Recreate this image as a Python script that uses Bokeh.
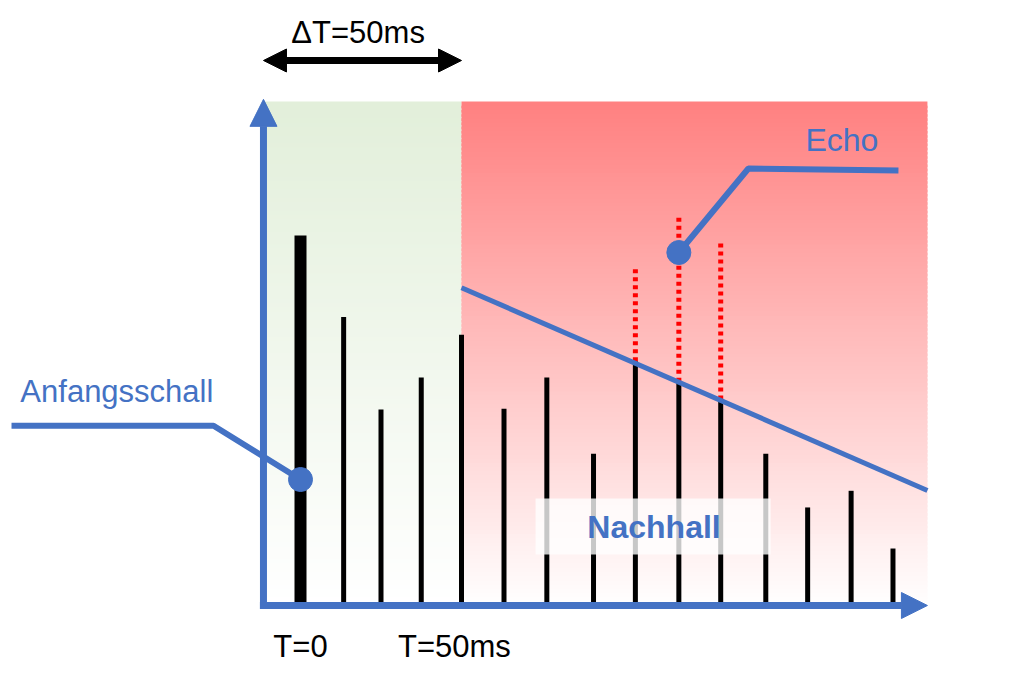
from bokeh.plotting import figure
from bokeh.models import Range1d, Arrow, NormalHead, ColumnDataSource
from bokeh.core.properties import value
from bokeh.embed import file_html
from bokeh.resources import INLINE

# ---------------- data ----------------
# impulse arrival times (ms) and relative levels (first impulse = 100)
times_ms = [0, 13.4, 25, 37.5, 50, 63.2, 76.5, 91, 104, 117.5, 130.5, 144.5, 157.5, 171, 184]
levels = [100, 78, 53, 61.6, 73.2, 53.2, 61.6, 41, 66, 60.5, 55.7, 41, 26.5, 31, 15.4]
# echo impulses (indices into the lists above) and their original (pre-decay) peaks
echo_idx = [8, 9, 10]
echo_peaks = [91.9, 105.4, 98.6]
# reverberation decay envelope
decay_t = [50, 194.7]
decay_level = [85.9, 31.1]
# time windows
delta_t = 50
t_axis_start = -11.5
t_axis_end = 194.7
level_top = 136.2
level_axis_end = 136.8
# callouts
anf_xs = [-89.75, -27.0, 0.0]
anf_ys = [48.6, 48.6, 34.05]
echo_xs = [117.5, 139.1, 185.7]
echo_ys = [95.4, 118.1, 117.6]
labels = ["T=0", "T=50ms"]
label_x = [0, 47.8]
label_y = [-14.3, -14.3]

BLUE = "#4472C4"
FONT = value("Liberation Sans")
NUDGE = 3.2  # text baseline correction (data units)

p = figure(width=1008, height=671,
           x_range=Range1d(-93.168, 219.876), y_range=Range1d(-17.838, 163.514),
           output_backend="svg", toolbar_location=None, min_border=0,
           x_axis_location=None, y_axis_location=None)
p.grid.visible = False
p.outline_line_color = None
p.background_fill_color = "white"


def lerp(c0, c1, f):
    return "#%02x%02x%02x" % tuple(int(round(a + (b - a) * f)) for a, b in zip(c0, c1))


def gradient(left, right, top, bottom, c_top, c_bot, n=120):
    step = (top - bottom) / n
    lefts, rights, tops, bots, cols = [], [], [], [], []
    for i in range(n):
        t = top - i * step
        b = max(bottom, t - step * 1.6)
        lefts.append(left); rights.append(right)
        tops.append(t); bots.append(b)
        cols.append(lerp(c_top, c_bot, (i + 0.5) / n))
    p.quad(left=lefts, right=rights, top=tops, bottom=bots,
           fill_color=cols, line_color=None)


# background windows
gradient(t_axis_start, delta_t, level_top, 0, (226, 239, 218), (255, 255, 255))
gradient(delta_t, t_axis_end, level_top, 0, (255, 128, 128), (255, 255, 255))

# impulses
widths = [12] + [5] * (len(times_ms) - 1)
src = ColumnDataSource(dict(t=times_ms, lv=levels, z=[0] * len(times_ms), w=widths))
p.segment(x0="t", y0="z", x1="t", y1="lv", line_width="w", line_color="black", source=src)

# echo (dotted) original peaks
et = [times_ms[i] for i in echo_idx]
el = [levels[i] for i in echo_idx]
p.segment(x0=et, y0=el, x1=et, y1=echo_peaks, line_color="red", line_width=5,
          line_dash="4 4")

# decay envelope
p.line(decay_t, decay_level, line_color=BLUE, line_width=5)

# callouts
p.line(anf_xs, anf_ys, line_color=BLUE, line_width=6)
p.scatter([anf_xs[-1]], [anf_ys[-1]], size=24, color=BLUE)
p.line(echo_xs, echo_ys, line_color=BLUE, line_width=6)
p.scatter([echo_xs[0]], [echo_ys[0]], size=24, color=BLUE)

p.text(x=[-87], y=[54.6 + NUDGE], text=["Anfangsschall"], text_font=FONT,
       text_font_size="31px", text_color=BLUE, text_align="left",
       text_baseline="alphabetic")
p.text(x=[156.8], y=[122.7 + NUDGE], text=["Echo"], text_font=FONT,
       text_font_size="32px", text_color=BLUE, text_align="left",
       text_baseline="alphabetic")

# Nachhall label box
p.quad(left=[73], right=[146], bottom=[13.8], top=[28.9], fill_color="white",
       fill_alpha=0.78, line_color=None)
p.text(x=[109.8], y=[18.1 + NUDGE], text=["Nachhall"], text_font=FONT,
       text_font_size="32px", text_font_style="bold", text_color=BLUE,
       text_align="center", text_baseline="alphabetic")

# black labels
p.text(x=label_x, y=[v + NUDGE for v in label_y], text=labels, text_font=FONT,
       text_font_size="31px", text_color="black", text_align="center",
       text_baseline="alphabetic")
p.text(x=[17.9], y=[151.6 + NUDGE], text=["ΔT=50ms"], text_font=FONT,
       text_font_size="31px", text_color="black", text_align="center",
       text_baseline="alphabetic")

# axes arrows
p.add_layout(Arrow(end=NormalHead(size=27, fill_color=BLUE, line_color=BLUE),
                   x_start=t_axis_start, y_start=-0.95, x_end=t_axis_start,
                   y_end=level_axis_end, line_color=BLUE, line_width=7))
p.add_layout(Arrow(end=NormalHead(size=26, fill_color=BLUE, line_color=BLUE),
                   x_start=t_axis_start - 1.1, y_start=0, x_end=t_axis_end, y_end=0,
                   line_color=BLUE, line_width=7))
# delta T double arrow
p.add_layout(Arrow(start=NormalHead(size=23, fill_color="black", line_color="black"),
                   end=NormalHead(size=23, fill_color="black", line_color="black"),
                   x_start=t_axis_start, y_start=147.3, x_end=delta_t, y_end=147.3,
                   line_color="black", line_width=7))

open("out.html", "w").write(file_html(p, INLINE))
